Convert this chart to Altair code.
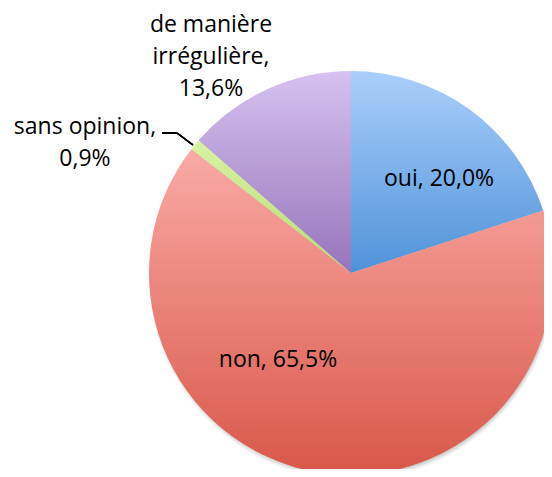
import altair as alt
import pandas as pd

categories = ["oui", "non", "sans opinion", "de manière irrégulière"]
values = [20.0, 65.5, 0.9, 13.6]
labels = ["oui, 20,0%", "non, 65,5%", "sans opinion,\n0,9%", "de manière\nirrégulière,\n13,6%"]
gradients = {
    "oui": ("#abcffb", "#4f92d9"),
    "non": ("#f9aaa5", "#d9574a"),
    "sans opinion": ("#d9f1a4", "#b9dc76"),
    "de manière irrégulière": ("#d6c1f0", "#9674ba"),
}

df = pd.DataFrame({"cat": categories, "val": values, "ord": list(range(len(categories)))})

CX, CY, R = 343, 265, 202
FONT = "Open Sans"

base = alt.Chart(df).transform_window(
    cum_end="sum(val)", sort=[alt.SortField("ord")], frame=[None, 0]
).transform_calculate(cum_start="datum.cum_end - datum.val")

theta_scale = alt.Scale(domain=[0, 100], range=[0, 6.283185307179586])

def grad(top, bottom):
    return {
        "gradient": "linear", "x1": 0, "y1": 0, "x2": 0, "y2": 1,
        "stops": [{"offset": 0, "color": top}, {"offset": 1, "color": bottom}],
    }

layers = []
# soft shadow
for i, (dx, dy, op) in enumerate([(1, 4, 0.05), (1, 3, 0.07), (1, 2, 0.09)]):
    layers.append(
        alt.Chart(pd.DataFrame({"v": [100.0]})).mark_arc(
            fill="#000000", opacity=op, radius=R + 1 - i
        ).encode(
            theta=alt.Theta("v:Q", scale=theta_scale),
            x=alt.value(CX + dx), y=alt.value(CY + dy),
        )
    )

for c in categories:
    top, bottom = gradients[c]
    layers.append(
        base.transform_filter(alt.datum.cat == c).mark_arc(
            fill=grad(top, bottom), radius=R
        ).encode(
            theta=alt.Theta("cum_start:Q", scale=theta_scale),
            theta2="cum_end:Q",
            x=alt.value(CX), y=alt.value(CY),
        )
    )

# y is the first line's middle
label_pos = {
    "oui": (431, 171),
    "non": (270, 352),
    "sans opinion": (77, 119),
    "de manière irrégulière": (203, 17),
}
for c, t in zip(categories, labels):
    px, py = label_pos[c]
    layers.append(
        alt.Chart(pd.DataFrame({"t": [t.split("\n")]})).mark_text(
            font=FONT, fontSize=23, color="#000000", align="center",
            baseline="middle", lineHeight=32
        ).encode(text="t", x=alt.value(px), y=alt.value(py))
    )

# leader line for "sans opinion"
layers.append(alt.Chart(df).mark_rule(color="#000000", strokeWidth=1.5).encode(
    x=alt.value(154), x2=alt.value(169), y=alt.value(125), y2=alt.value(125)))
layers.append(alt.Chart(df).mark_rule(color="#000000", strokeWidth=1.5).encode(
    x=alt.value(169), x2=alt.value(185), y=alt.value(125), y2=alt.value(137)))

chart = alt.layer(*layers).properties(
    width=536, height=461, autosize="none", padding=0
).configure_view(stroke=None)

chart.save("out.html", embed_options={"renderer": "svg", "actions": False})
